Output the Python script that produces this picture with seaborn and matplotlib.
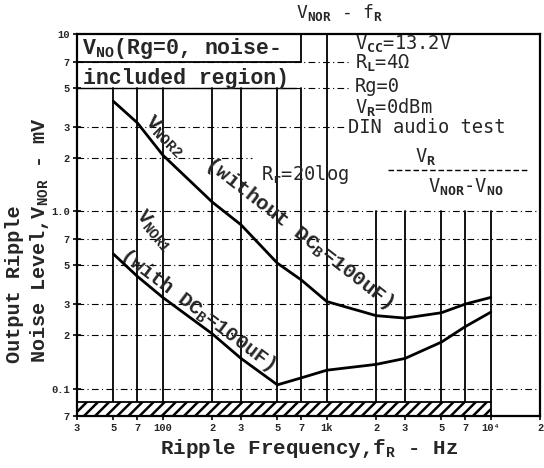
import matplotlib
matplotlib.use("Agg")
import matplotlib.pyplot as plt
import seaborn as sns
import pandas as pd

# curves (mV vs Hz)
freq = [50, 70, 100, 200, 300, 500, 700, 1000, 2000, 3000, 5000, 7000, 10000]
vnor2 = [4.18, 3.16, 2.08, 1.13, 0.84, 0.51, 0.41, 0.31, 0.258, 0.25, 0.268, 0.30, 0.327]
vnor1 = [0.575, 0.43, 0.327, 0.204, 0.148, 0.105, 0.115, 0.127, 0.137, 0.148, 0.183, 0.224, 0.27]

xticks = [30, 50, 70, 100, 200, 300, 500, 700, 1000, 2000, 3000, 5000, 7000, 10000, 20000]
xticklabels = ["3", "5", "7", "100", "2", "3", "5", "7", "1k", "2", "3", "5", "7", "10⁴", "2"]
yticks = [10, 7, 5, 3, 2, 1, 0.7, 0.5, 0.3, 0.2, 0.1, 0.07]
yticklabels = ["10", "7", "5", "3", "2", "1.0", "7", "5", "3", "2", "0.1", "7"]

sns.set_theme(style="white")
plt.rcParams["font.family"] = ["Liberation Mono", "DejaVu Sans"]
plt.rcParams["font.weight"] = "bold"
plt.rcParams["mathtext.fontset"] = "custom"
plt.rcParams["mathtext.rm"] = "Liberation Mono:bold"
plt.rcParams["mathtext.it"] = "Liberation Mono:bold"
plt.rcParams["mathtext.bf"] = "Liberation Mono:bold"
plt.rcParams["mathtext.sf"] = "DejaVu Sans Mono"
plt.rcParams["hatch.linewidth"] = 1.8

df = pd.DataFrame({"f": freq * 2, "v": vnor2 + vnor1,
                   "curve": ["VNOR2"] * len(freq) + ["VNOR1"] * len(freq)})

fig = plt.figure(figsize=(5.44, 4.68), dpi=100)
ax = fig.add_axes([0.1415, 0.111, 0.8515, 0.816])
ax.set_xscale("log")
ax.set_yscale("log")
ax.set_xlim(30, 20000)
ax.set_ylim(0.07, 10)

# grid, drawn piecewise like the datasheet
gk = dict(color="black", lw=0.8, ls=(0, (6, 3, 1, 3)), zorder=1)
for v, fend in [(7, 1400), (5, 1400), (3, 1300), (2, 350)]:
    ax.plot([30, fend], [v, v], **gk)
for v in [1, 0.7, 0.5, 0.3, 0.2, 0.1]:
    ax.plot([30, 20000], [v, v], **gk)
for f in [50, 70, 100, 200, 300, 500, 700]:
    ax.plot([f, f], [0.084, 5], color="black", lw=1.3, zorder=1)
ax.plot([1000, 1000], [0.084, 10], color="black", lw=1.3, zorder=1)
for f in [2000, 3000, 5000, 7000, 10000]:
    ax.plot([f, f], [0.084, 1], color="black", lw=1.3, zorder=1)
# box round the noise-included note
ax.plot([30, 700], [7, 7], color="black", lw=1.3, zorder=1)
ax.plot([700, 700], [7, 10], color="black", lw=1.3, zorder=1)
ax.plot([30, 650], [5, 5], color="black", lw=1.0, zorder=1)

# hatched floor
ax.fill_between([30, 10000], 0.07, 0.084, facecolor="white", edgecolor="black",
                hatch="///", linewidth=0, zorder=2)
ax.plot([30, 10000, 10000], [0.084, 0.084, 0.07], color="black", lw=1.3, zorder=3)

sns.lineplot(data=df, x="f", y="v", hue="curve", palette=["black", "black"],
             linewidth=2.0, legend=False, ax=ax, zorder=4)

for s in ax.spines.values():
    s.set_color("black")
    s.set_linewidth(1.6)

ax.set_xticks(xticks)
ax.set_xticklabels(xticklabels)
ax.set_yticks(yticks)
ax.set_yticklabels(yticklabels)
ax.minorticks_off()
ax.tick_params(direction="inout", length=6, width=1.2, color="black",
               labelsize=7.5, pad=2, bottom=True, left=True)

ax.set_ylabel("")
ax.set_xlabel("Ripple Frequency,f$_\\mathrm{R}$ - Hz", fontsize=15, fontweight="bold",
              labelpad=3)
fig.text(0.026, 0.224, "Output Ripple", rotation=90, ha="center", va="bottom",
         fontsize=14.5, fontweight="bold")
fig.text(0.072, 0.224, "Noise Level,V$_\\mathrm{NOR}$ - mV", rotation=90, ha="center",
         va="bottom", fontsize=14.5, fontweight="bold")
fig.text(0.625, 0.974, "V$_\\mathsf{NOR}$ - f$_\\mathsf{R}$", ha="center", va="center",
         fontsize=13, family="DejaVu Sans Mono", weight="normal")

big = 15.5
ax.text(32.2, 8.27, "V$_\\mathrm{NO}$(Rg=0, noise-", fontsize=big, va="center", ha="left")
ax.text(32.6, 5.6, "included region)", fontsize=big, va="center", ha="left")

rk = dict(fontsize=13.5, family="DejaVu Sans Mono", weight="normal", va="center",
          ha="left")
ax.text(1491, 8.9, "V$_\\mathsf{CC}$=13.2V", **rk)
ax.text(1491, 6.95, "R$_\\mathsf{L}$=4Ω", **rk)
ax.text(1491, 5.05, "Rg=0", **rk)
ax.text(1491, 3.9, "V$_\\mathsf{R}$=0dBm", **rk)
ax.text(1353, 2.97, "DIN audio test", **rk)
ax.text(396, 1.62, "R$_\\mathsf{r}$=20log", **rk)
ax.text(4020, 2.05, "V$_\\mathsf{R}$", fontsize=13.5, family="DejaVu Sans Mono",
        weight="normal", ha="center", va="center")
ax.plot([2360, 16650], [1.72, 1.72], color="black", lw=1.0, ls=(0, (4, 2)))
ax.text(7020, 1.39, "V$_\\mathsf{NOR}$-V$_\\mathsf{NO}$", fontsize=13.5,
        family="DejaVu Sans Mono", weight="normal", ha="center", va="center")

# curve labels follow the bend of each curve
ax.text(80.8, 3.33, "V$_\\mathrm{NOR2}$", fontsize=15, rotation=-45,
        rotation_mode="anchor", ha="left", va="center")
ax.text(186.6, 1.93, "(without DC$_\\mathrm{B}$=100uF)", fontsize=15, rotation=-38,
        rotation_mode="anchor", ha="left", va="center")
ax.text(71.9, 0.99, "V$_\\mathrm{NOR1}$", fontsize=14.5, rotation=-50,
        rotation_mode="anchor", ha="left", va="center")
ax.text(56.2, 0.583, "(with DC$_\\mathrm{B}$=100uF)", fontsize=14.5, rotation=-37,
        rotation_mode="anchor", ha="left", va="center")

fig.savefig("out.png", dpi=100)
